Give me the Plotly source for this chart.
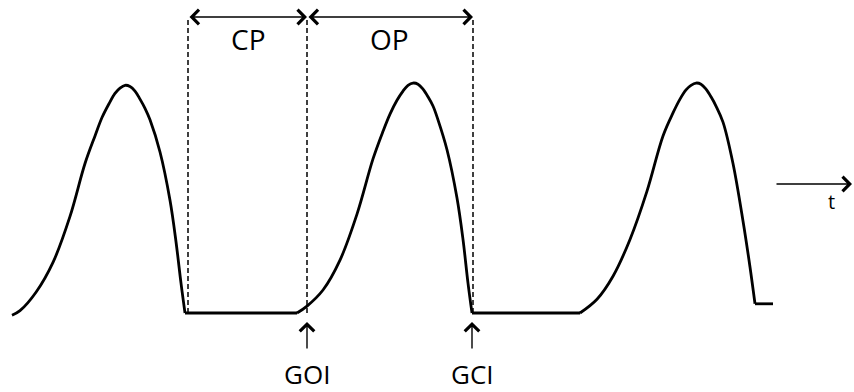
import plotly.graph_objects as go

# ---- data (time in arbitrary units, amplitude normalised) ----
pulse1_t = [12, 20, 36, 53, 70, 85, 95, 102, 109, 115, 120, 125, 130, 135, 140, 145, 150, 160, 170, 176, 181, 185]
pulse1_a = [-0.01, 0.01, 0.09, 0.22, 0.42, 0.65, 0.77, 0.85, 0.91, 0.955, 0.978, 0.99, 0.985, 0.965, 0.93, 0.89, 0.84, 0.70, 0.49, 0.31, 0.13, 0.0]

pulse2_t = [297, 307, 323, 340, 357, 373, 383, 390, 397, 403, 408, 413, 418, 423, 428, 433, 438, 447, 457, 463, 468, 472]
pulse2_a = [0.0, 0.03, 0.10, 0.23, 0.43, 0.67, 0.79, 0.865, 0.925, 0.965, 0.99, 1.0, 0.995, 0.973, 0.94, 0.90, 0.84, 0.71, 0.50, 0.32, 0.13, 0.0]

pulse3_t = [580, 597, 613, 630, 647, 663, 673, 680, 686, 691, 696, 701, 706, 711, 716, 723, 733, 743, 750, 755]
pulse3_a = [0.0, 0.06, 0.16, 0.32, 0.53, 0.77, 0.87, 0.93, 0.97, 0.99, 1.0, 0.995, 0.973, 0.94, 0.90, 0.83, 0.65, 0.40, 0.20, 0.04]

closed1_t = [185, 297]
closed1_a = [0.0, 0.0]
closed2_t = [472, 580]
closed2_a = [0.0, 0.0]
tail_t = [755, 773]
tail_a = [0.04, 0.04]

# phase boundaries (GCI, GOI, GCI) and labels
boundaries = [188, 307, 473]
phase_labels = ["CP", "OP"]
phase_label_x = [248, 389]
instant_labels = ["GOI", "GCI"]
instant_x = [307, 472]

TOP = 1.287      # level of the double arrows / top of dashed lines

fig = go.Figure()
for t, a, shape in [
    (pulse1_t, pulse1_a, "spline"),
    (closed1_t, closed1_a, "linear"),
    (pulse2_t, pulse2_a, "spline"),
    (closed2_t, closed2_a, "linear"),
    (pulse3_t, pulse3_a, "spline"),
    (tail_t, tail_a, "linear"),
]:
    fig.add_trace(go.Scatter(x=t, y=a, mode="lines",
                             line=dict(color="black", width=2.8, shape=shape, smoothing=1.0),
                             hoverinfo="skip", showlegend=False))

# dashed boundary lines
for b in boundaries:
    fig.add_shape(type="line", x0=b, x1=b, y0=0, y1=TOP, xref="x", yref="y",
                  line=dict(color="black", width=1.5, dash="5px,3px"))

AS = 2.0
annotations = []
# double headed phase arrows
for i in range(len(boundaries) - 1):
    annotations.append(dict(
        x=boundaries[i + 1], y=TOP, ax=boundaries[i], ay=TOP,
        xref="x", yref="y", axref="x", ayref="y", text="",
        showarrow=True, arrowhead=4, startarrowhead=4, arrowside="end+start",
        arrowsize=AS, startarrowsize=AS, arrowwidth=1.4, arrowcolor="black",
        standoff=0, startstandoff=0))
# phase labels
for lab, x in zip(phase_labels, phase_label_x):
    annotations.append(dict(x=x, y=1.19, xref="x", yref="y", text=lab, showarrow=False,
                            font=dict(family="Open Sans", size=28, color="black"),
                            xanchor="center", yanchor="middle"))
# instant arrows and labels
for lab, x in zip(instant_labels, instant_x):
    annotations.append(dict(
        x=x, y=-0.039, ax=x, ay=-0.161, xref="x", yref="y", axref="x", ayref="y",
        text="", showarrow=True, arrowhead=4, arrowsize=AS, arrowwidth=1.4,
        arrowcolor="black", standoff=0))
    annotations.append(dict(x=x, y=-0.265, xref="x", yref="y", text=lab, showarrow=False,
                            font=dict(family="Open Sans", size=26, color="black"),
                            xanchor="center", yanchor="middle"))
# time axis arrow
annotations.append(dict(x=852, y=0.561, ax=775, ay=0.561, xref="x", yref="y",
                        axref="x", ayref="y", text="", showarrow=True, arrowhead=4,
                        arrowsize=AS, arrowwidth=1.4, arrowcolor="black", standoff=0))
annotations.append(dict(x=831, y=0.487, xref="x", yref="y", text="t", showarrow=False,
                        font=dict(family="Open Sans", size=20, color="black"),
                        xanchor="center", yanchor="middle"))

fig.update_layout(
    width=854, height=392,
    margin=dict(l=0, r=0, t=0, b=0),
    paper_bgcolor="white", plot_bgcolor="white",
    xaxis=dict(range=[0, 854], visible=False, fixedrange=True),
    yaxis=dict(range=[-0.3435, 1.361], visible=False, fixedrange=True),
    annotations=annotations,
    showlegend=False,
)

fig.write_html("out.html", config={"displayModeBar": False},
               post_script="document.body.style.margin='0';document.body.style.overflow='hidden';")
